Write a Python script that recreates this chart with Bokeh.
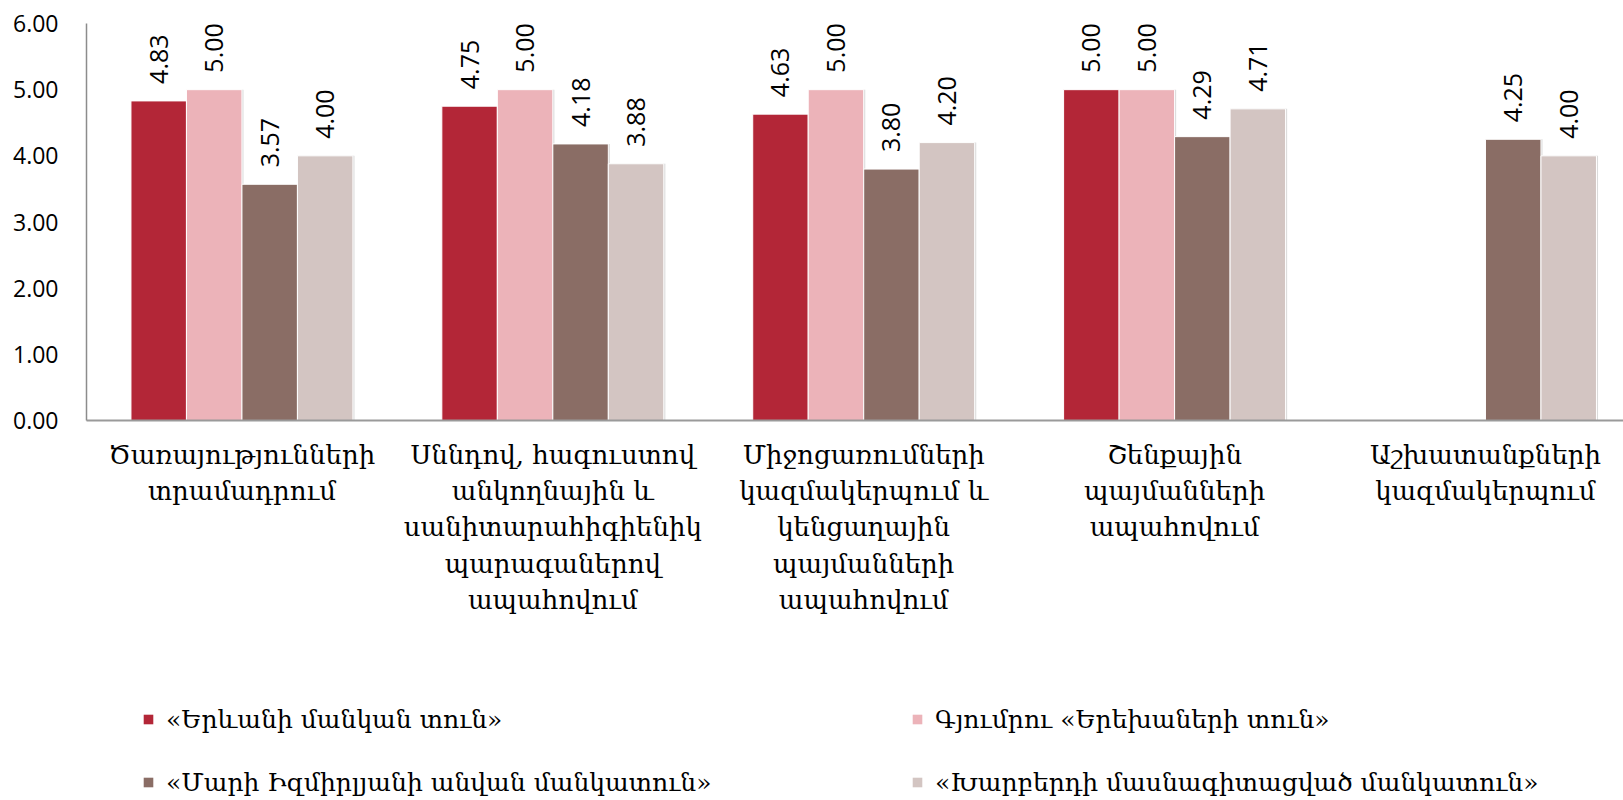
import math
from bokeh.plotting import figure
from bokeh.layouts import column
from bokeh.models import ColumnDataSource, Legend, LegendItem, FixedTicker, CustomJSTickFormatter, Range1d
from bokeh.transform import dodge
from bokeh.core.properties import value
from bokeh.embed import file_html
from bokeh.resources import INLINE

categories = [
    "Ծառայությունների\nտրամադրում",
    "Սննդով, հագուստով\nանկողնային և\nսանիտարահիգիենիկ\nպարագաներով\nապահովում",
    "Միջոցառումների\nկազմակերպում և\nկենցաղային\nպայմանների\nապահովում",
    "Շենքային\nպայմանների\nապահովում",
    "Աշխատանքների\nկազմակերպում",
]
series_names = [
    "«Երևանի մանկան տուն»",
    "Գյումրու «Երեխաների տուն»",
    "«Մարի Իզմիրլյանի անվան մանկատուն»",
    "«Խարբերդի մասնագիտացված մանկատուն»",
]
nan = float("nan")
yerevan = [4.83, 4.75, 4.63, 5.00, nan]
gyumri = [5.00, 5.00, 5.00, 5.00, nan]
izmirlian = [3.57, 4.18, 3.80, 4.29, 4.25]
kharberd = [4.00, 3.88, 4.20, 4.71, 4.00]
y_ticks = [0, 1, 2, 3, 4, 5, 6]

colors = ["#B32637", "#ECB3B9", "#8A6D65", "#D3C5C2"]
all_series = [yerevan, gyumri, izmirlian, kharberd]

ARM = "DejaVu Serif"
NUM = "Open Sans"

# category slots centred at i + 0.5; the original chart's plot area runs past the
# right edge of the picture, so the visible x range ends before the 5th slot's end
cat_pos = [i + 0.5 for i in range(len(categories))]
x_rng = Range1d(0, 4.944)

p = figure(x_range=x_rng, y_range=(0, 6),
           frame_width=1537, height=650,
           min_border_left=86, min_border_top=23, min_border_right=0, min_border_bottom=230,
           output_backend="svg", toolbar_location=None, outline_line_color=None,
           background_fill_color="white", border_fill_color="white")
p.grid.visible = False

pl = figure(width=1623, height=150, x_range=x_rng, y_range=Range1d(10, 11), min_border=0,
            output_backend="svg", toolbar_location=None, outline_line_color=None,
            background_fill_color="white", border_fill_color="white")
pl.axis.visible = False
pl.grid.visible = False

bw = 0.1785
offsets = [-1.5 * bw, -0.5 * bw, 0.5 * bw, 1.5 * bw]
sources = []
for vals in all_series:
    labels = ["" if math.isnan(v) else f"{v:.2f}" for v in vals]
    sources.append(ColumnDataSource(dict(xc=cat_pos, val=vals, lab=labels)))

for src, off in zip(sources, offsets):
    p.vbar(x=dodge("xc", off + 0.005), top="val", width=bw, source=src,
           fill_color="#bdbdbd", fill_alpha=0.55, line_color=None)

legend_renderers = []
for src, col, off in zip(sources, colors, offsets):
    p.vbar(x=dodge("xc", off), top="val", width=bw, source=src,
           fill_color=col, line_color="white", line_width=1)
    p.text(x=dodge("xc", off), y="val", text="lab", source=src,
           angle=math.pi / 2, text_align="left", text_baseline="middle",
           y_offset=-17, text_font=value(NUM), text_font_size="25px", text_color="#000000")
    legend_renderers.append(pl.vbar(x=dodge("xc", off), top="val", width=bw,
                                    source=src, fill_color=col, line_color=None))

p.yaxis.ticker = FixedTicker(ticks=y_ticks)
p.yaxis.formatter = CustomJSTickFormatter(code="return tick.toFixed(2);")
p.yaxis.major_label_text_font = NUM
p.yaxis.major_label_text_font_size = "23px"
p.yaxis.major_label_text_color = "#000000"
p.yaxis.axis_line_color = "#8c8c8c"
p.yaxis.axis_line_width = 1.5
p.yaxis.major_tick_line_color = None
p.yaxis.minor_tick_line_color = None
p.yaxis.major_label_standoff = 22

p.xaxis.ticker = FixedTicker(ticks=cat_pos)
p.xaxis.formatter = CustomJSTickFormatter(args=dict(labels=categories),
                                          code="return labels[Math.round(tick - 0.5)];")
p.xaxis.axis_line_color = "#9a9a9a"
p.xaxis.axis_line_width = 2
p.xaxis.major_tick_line_color = None
p.xaxis.minor_tick_line_color = None
p.xaxis.major_label_text_font = ARM
p.xaxis.major_label_text_font_size = "26px"
p.xaxis.major_label_text_color = "#000000"
p.xaxis.major_label_text_line_height = 1.215
p.xaxis.major_label_standoff = 13

# two columns, filled column-first: left = series 1, 3; right = series 2, 4
order = [0, 2, 1, 3]
items = [LegendItem(label=series_names[i], renderers=[legend_renderers[i]]) for i in order]
legend = Legend(items=items, ncols=2, location=(56, 3),
                glyph_width=12, glyph_height=12, label_standoff=12,
                label_width=712, label_height=30, spacing=33,
                padding=0, margin=0, border_line_color=None, background_fill_alpha=0,
                label_text_font=ARM, label_text_font_size="25px", label_text_color="#000000")
pl.add_layout(legend, "center")

layout = column(p, pl, spacing=0)
with open("out.html", "w") as f:
    f.write(file_html(layout, INLINE))
